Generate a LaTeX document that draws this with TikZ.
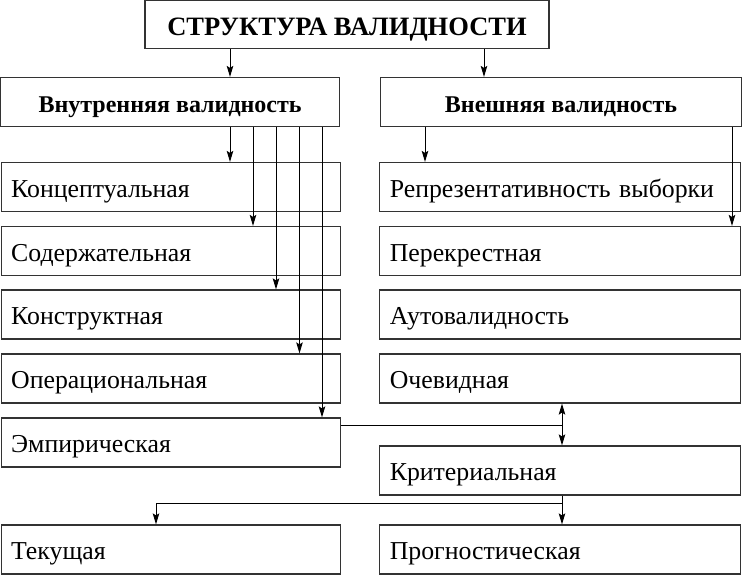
\documentclass[tikz,border=0pt]{standalone}
\usepackage{fontspec}
\setmainfont{Liberation Serif}
\usetikzlibrary{arrows.meta}

\tikzset{
  box/.style={draw=black!80, line width=1.2pt, minimum height=49pt, inner xsep=10pt,
    text height=21pt, text depth=1pt, align=left, font=\fontsize{25.8}{28}\selectfont},
  lbox/.style={box, text width=319pt, anchor=west},
  rbox/.style={box, text width=341pt, anchor=east},
  hbox/.style={draw=black!80, line width=1.2pt, minimum height=49pt,
    text height=22pt, text depth=1pt, font=\bfseries\fontsize{24}{28}\selectfont},
  arr/.style={-{Stealth[length=11pt,width=6.5pt,inset=2pt]}, line width=1pt},
  arrs/.style={{Stealth[length=11pt,width=6.5pt,inset=2pt]}-{Stealth[length=11pt,width=6.5pt,inset=2pt]}, line width=1pt}
}

\begin{document}
\begin{tikzpicture}[x=1pt, y=-1pt]
    \fill[white] (0,0) rectangle (742,576);
    \useasboundingbox (0,0) rectangle (742,576);

    % headings
    \node[hbox, minimum width=404pt, minimum height=48pt, font=\bfseries\fontsize{26.5}{28}\selectfont] (title) at (347,24.5) {СТРУКТУРА ВАЛИДНОСТИ};
    \node[hbox, minimum width=339pt] (lhead) at (170.1,102) {Внутренняя валидность};
    \node[hbox, minimum width=361pt] (rhead) at (561,102) {Внешняя валидность};

    % left column
    \node[lbox] (konc) at (0.6,187) {Концептуальная};
    \node[lbox] (sod) at (0.6,251) {Содержательная};
    \node[lbox] (konstr) at (0.6,314.5) {Конструктная};
    \node[lbox] (oper) at (0.6,378.5) {Операциональная};
    \node[lbox] (emp) at (0.6,442.5) {Эмпирическая};
    \node[lbox] (tek) at (0.6,549.5) {Текущая};

    % right column
    \node[rbox] (repr) at (741.4,187) {Репрезентативность выборки};
    \node[rbox] (pere) at (741.4,251) {Перекрестная};
    \node[rbox] (auto) at (741.4,314.5) {Аутовалидность};
    \node[rbox] (ochev) at (741.4,378.5) {Очевидная};
    \node[rbox] (krit) at (741.4,470.5) {Критериальная};
    \node[rbox] (prog) at (741.4,549.5) {Прогностическая};

    % x of the vertical lines
    \coordinate (xa) at (230,0);
    \coordinate (xb) at (253,0);
    \coordinate (xc) at (276,0);
    \coordinate (xd) at (299.5,0);
    \coordinate (xe) at (322,0);
    \coordinate (xr) at (484,0);
    \coordinate (xp) at (425,0);
    \coordinate (xq) at (732,0);
    \coordinate (xk) at (562,0);
    \coordinate (xt) at (156,0);

    \draw[arr] (title.south -| xa) -- (lhead.north -| xa);
    \draw[arr] (title.south -| xr) -- (rhead.north -| xr);

    \draw[arr] (lhead.south -| xa) -- (konc.north -| xa);
    \draw[arr] (lhead.south -| xb) -- (sod.north -| xb);
    \draw[arr] (lhead.south -| xc) -- (konstr.north -| xc);
    \draw[arr] (lhead.south -| xd) -- (oper.north -| xd);
    \draw[arr] (lhead.south -| xe) -- (emp.north -| xe);

    \draw[arr] (rhead.south -| xp) -- (repr.north -| xp);
    \draw[arr] (rhead.south -| xq) -- (pere.north -| xq);

    \draw[arrs] (ochev.south -| xk) -- (krit.north -| xk);
    \draw[line width=1pt] ([yshift=-8pt]emp.north east) -- ([yshift=-8pt]emp.north east -| xk);

    \coordinate (br) at ([yshift=-8pt]krit.south -| xk);
    \draw[arr] (krit.south -| xk) -- (prog.north -| xk);
    \draw[arr] (br) -| (tek.north -| xt);
\end{tikzpicture}
\end{document}
